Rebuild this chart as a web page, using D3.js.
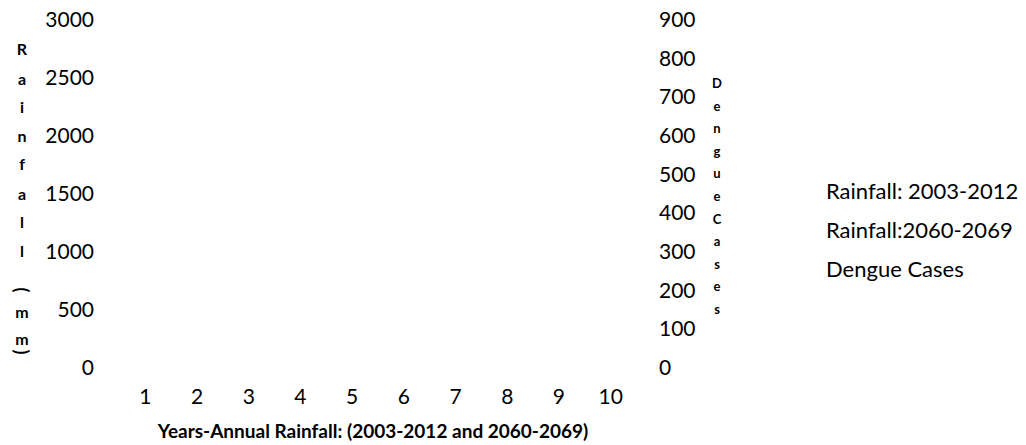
<!DOCTYPE html>
<html>
<head>
<meta charset="utf-8">
<script src="https://cdn.jsdelivr.net/npm/d3@7"></script>
<style>
  html, body { margin: 0; padding: 0; background: #ffffff; }
  svg { display: block; }
  text { font-family: Lato, "Liberation Sans", sans-serif; fill: #000; }
</style>
</head>
<body>
<svg id="chart" width="1026" height="445"></svg>
<script>
// ---- data (nothing is plotted in the reference: all values are missing) ----
const years = [1, 2, 3, 4, 5, 6, 7, 8, 9, 10];
const rainfall2003 = [null, null, null, null, null, null, null, null, null, null];
const rainfall2060 = [null, null, null, null, null, null, null, null, null, null];
const dengueCases  = [null, null, null, null, null, null, null, null, null, null];
const leftTicks  = [0, 500, 1000, 1500, 2000, 2500, 3000];
const rightTicks = [0, 100, 200, 300, 400, 500, 600, 700, 800, 900];
const seriesNames = ["Rainfall: 2003-2012", "Rainfall:2060-2069", "Dengue Cases"];
const leftTitle = "Rainfall (mm)";
const rightTitle = "DengueCases";
const xTitle = "Years-Annual Rainfall: (2003-2012 and 2060-2069)";

const svg = d3.select("#chart");

const x = d3.scaleBand().domain(years).range([119, 636]).paddingInner(0.2).paddingOuter(0.1);
const xc = d3.scalePoint().domain(years).range([119, 636]).padding(0.5);
const yL = d3.scaleLinear().domain([0, 3000]).range([368, 20]);
const yR = d3.scaleLinear().domain([0, 900]).range([367.5, 20]);

// series marks (none have values)
const bw = x.bandwidth() / 2;
const barData = [];
years.forEach((yr, i) => {
  if (rainfall2003[i] != null) barData.push({ yr, k: 0, v: rainfall2003[i] });
  if (rainfall2060[i] != null) barData.push({ yr, k: 1, v: rainfall2060[i] });
});
svg.append("g").selectAll("rect").data(barData).join("rect")
  .attr("x", d => x(d.yr) + d.k * bw)
  .attr("width", bw)
  .attr("y", d => yL(d.v))
  .attr("height", d => yL(0) - yL(d.v))
  .attr("fill", d => d.k === 0 ? "#4472c4" : "#ed7d31");
const dPts = years.map((yr, i) => ({ yr, v: dengueCases[i] })).filter(d => d.v != null);
svg.append("path").datum(dPts)
  .attr("fill", "none").attr("stroke", "#a5a5a5").attr("stroke-width", 2)
  .attr("d", d3.line().x(d => xc(d.yr)).y(d => yR(d.v)));

// axes (labels only, no lines)
const gL = svg.append("g").attr("transform", "translate(94,0)")
  .call(d3.axisLeft(yL).tickValues(leftTicks).tickSize(0).tickPadding(0).tickFormat(d3.format("d")));
const gR = svg.append("g").attr("transform", "translate(659,0)")
  .call(d3.axisRight(yR).tickValues(rightTicks).tickSize(0).tickPadding(0).tickFormat(d3.format("d")));
const gX = svg.append("g").attr("transform", "translate(0,389)")
  .call(d3.axisBottom(xc).tickSize(0).tickPadding(0));
[gL, gR, gX].forEach(g => {
  g.select(".domain").remove();
  g.selectAll("text").attr("font-size", 21).attr("font-family", "Lato, sans-serif").attr("fill", "#000");
});

// left stacked title
const leftY = [48, 78, 106, 135, 163, 193, 221, 250, null, 290, 311, 338, 352];
const gLT = svg.append("g").attr("font-weight", "bold").attr("font-size", 16);
leftTitle.split("").forEach((ch, i) => {
  if (ch === " ") return;
  const y = leftY[i];
  const t = gLT.append("text").attr("text-anchor", "middle").attr("dominant-baseline", "central").text(ch);
  if (ch === "(" || ch === ")") {
    t.attr("transform", `translate(22,${y}) rotate(90)`).attr("font-size", 18);
  } else {
    t.attr("x", 22).attr("y", y);
  }
});

// right stacked title
const gRT = svg.append("g").attr("font-weight", "bold").attr("font-size", 13);
rightTitle.split("").forEach((ch, i) => {
  gRT.append("text").attr("x", 717).attr("y", 83 + i * 22.6)
    .attr("text-anchor", "middle").attr("dominant-baseline", "central").text(ch);
});

// x title
svg.append("text").attr("x", 373).attr("y", 430)
  .attr("text-anchor", "middle").attr("dominant-baseline", "central")
  .attr("font-weight", "bold").attr("font-size", 19).text(xTitle);

// legend (no swatches visible in reference)
const legY = [190, 229, 268];
svg.append("g").selectAll("text").data(seriesNames).join("text")
  .attr("x", 826).attr("y", (d, i) => legY[i])
  .attr("dominant-baseline", "central")
  .attr("font-size", 22).text(d => d);
</script>
</body>
</html>
